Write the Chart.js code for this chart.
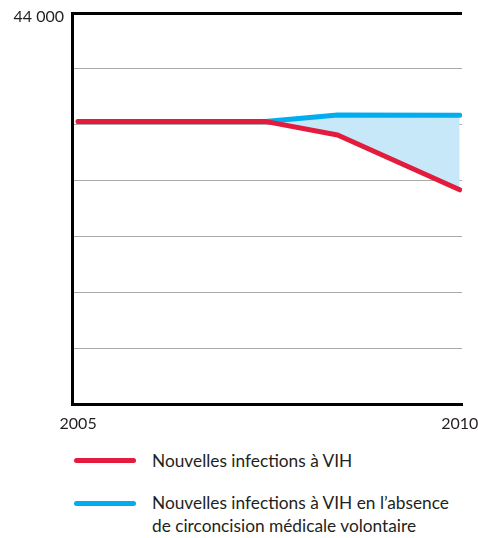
<!DOCTYPE html>
<html>
<head>
<meta charset="utf-8">
<script src="https://cdn.jsdelivr.net/npm/chart.js@4/dist/chart.umd.min.js"></script>
<style>
  html, body { margin: 0; padding: 0; background: #fff; }
  #wrap { position: relative; width: 478px; height: 538px; font-family: Lato, "Open Sans", sans-serif; color: #231f20; }
  #cv { position: absolute; left: 0; top: 0; }
  .leg { position: absolute; left: 74px; width: 62px; height: 5px; border-radius: 3px; }
  .txt { position: absolute; left: 152px; font-size: 17.3px; line-height: 22.5px; white-space: nowrap; }
</style>
</head>
<body>
<div id="wrap">
  <canvas id="cv" width="478" height="440"></canvas>
  <div class="leg" style="top:458px;background:#e31b3d"></div>
  <div class="txt" style="top:450px">Nouvelles infections à VIH</div>
  <div class="leg" style="top:501px;background:#00aeef"></div>
  <div class="txt" style="top:492px">Nouvelles infections à VIH en l’absence<br>de circoncision médicale volontaire</div>
</div>
<script>
const years = [2005, 2007.45, 2008.4, 2010];
const withCircumcision = [31800, 31800, 30270, 24100];
const withoutCircumcision = [31800, 31800, 32520, 32480];
const xTickYears = [2005, 2010];
const yMax = 44000;
const yTickLabel = '44 000';
const seriesNames = ['Nouvelles infections à VIH', 'Nouvelles infections à VIH en l’absence de circoncision médicale volontaire'];

const toPts = vals => years.map((y, i) => ({x: y, y: vals[i]}));

new Chart(document.getElementById('cv'), {
  type: 'line',
  data: {
    datasets: [
      {
        label: seriesNames[0],
        data: toPts(withCircumcision),
        borderColor: '#e31b3d',
        borderWidth: 5,
        borderCapStyle: 'round',
        borderJoinStyle: 'round',
        pointRadius: 0,
        tension: 0,
        fill: false
      },
      {
        label: seriesNames[1],
        data: toPts(withoutCircumcision),
        borderColor: '#00aeef',
        backgroundColor: '#c6e8f8',
        borderWidth: 5,
        borderCapStyle: 'round',
        borderJoinStyle: 'round',
        pointRadius: 0,
        tension: 0,
        fill: '-1'
      }
    ]
  },
  options: {
    responsive: false,
    animation: false,
    layout: { padding: { top: 13, right: 16, bottom: 0, left: 0 } },
    plugins: { legend: { display: false }, tooltip: { enabled: false } },
    scales: {
      x: {
        type: 'linear',
        min: 2004.92,
        max: 2010.03,
        afterBuildTicks: s => { s.ticks = xTickYears.map(v => ({value: v})); },
        afterFit: s => { s.height = 36; s.paddingLeft = 0; s.paddingRight = 0; },
        grid: { display: false, drawTicks: false },
        border: { display: true, color: '#000', width: 3 },
        ticks: {
          padding: 10,
          color: '#231f20',
          font: { family: 'Lato', size: 16 },
          callback: v => String(v),
          maxRotation: 0,
          autoSkip: false
        }
      },
      y: {
        min: 0,
        max: yMax,
        afterBuildTicks: s => { s.ticks = [0,1,2,3,4,5,6,7].map(i => ({value: i * yMax / 7})); },
        afterFit: s => { s.width = 72; s.paddingTop = 0; s.paddingBottom = 0; },
        grid: {
          drawTicks: false,
          color: c => (c.tick && Math.abs(c.tick.value - yMax) < 1) ? '#000' : '#aaaaaa',
          lineWidth: c => (c.tick && Math.abs(c.tick.value - yMax) < 1) ? 3 : 1
        },
        border: { display: true, color: '#000', width: 3 },
        ticks: {
          padding: 8,
          labelOffset: 4,
          color: '#231f20',
          font: { family: 'Lato', size: 16 },
          autoSkip: false,
          callback: v => (Math.abs(v - yMax) < 1 ? yTickLabel : '')
        }
      }
    }
  }
});
</script>
</body>
</html>
